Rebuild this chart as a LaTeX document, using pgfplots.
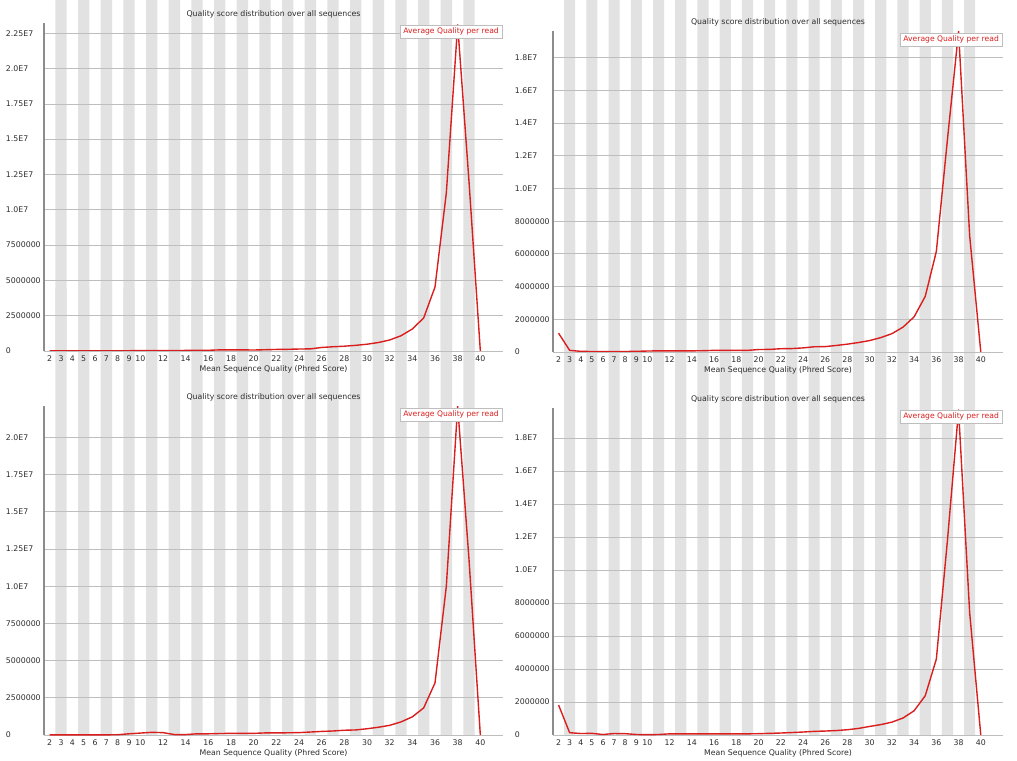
\documentclass[border=0pt]{standalone}
\usepackage{pgfplots}
\pgfplotsset{compat=1.18}
\usepackage{fontspec}
\setmainfont{DejaVu Sans}
\definecolor{stripe}{RGB}{226,226,226}
\definecolor{gridc}{RGB}{190,190,190}
\definecolor{axc}{RGB}{140,140,140}
\definecolor{linered}{RGB}{218,30,30}
\definecolor{txt}{RGB}{45,45,45}

\pgfplotstableread{
x y
2 0.01e6
3 0.01e6
4 0.01e6
5 0.01e6
6 0.01e6
7 0.01e6
8 0.01e6
9 0.02e6
10 0.03e6
11 0.03e6
12 0.03e6
13 0.03e6
14 0.04e6
15 0.04e6
16 0.05e6
17 0.08e6
18 0.08e6
19 0.08e6
20 0.07e6
21 0.09e6
22 0.11e6
23 0.12e6
24 0.14e6
25 0.15e6
26 0.25e6
27 0.30e6
28 0.34e6
29 0.40e6
30 0.48e6
31 0.60e6
32 0.78e6
33 1.08e6
34 1.56e6
35 2.34e6
36 4.53e6
37 11.2e6
38 23.1e6
39 12.0e6
40 0
}\dataA

\pgfplotstableread{
x y
2 1.15e6
3 0.10e6
4 0.04e6
5 0.03e6
6 0.03e6
7 0.03e6
8 0.03e6
9 0.04e6
10 0.06e6
11 0.07e6
12 0.07e6
13 0.07e6
14 0.07e6
15 0.08e6
16 0.10e6
17 0.10e6
18 0.10e6
19 0.10e6
20 0.15e6
21 0.16e6
22 0.20e6
23 0.21e6
24 0.25e6
25 0.32e6
26 0.33e6
27 0.40e6
28 0.48e6
29 0.58e6
30 0.70e6
31 0.88e6
32 1.12e6
33 1.52e6
34 2.15e6
35 3.40e6
36 6.15e6
37 13.0e6
38 19.6e6
39 7.1e6
40 0
}\dataB

\pgfplotstableread{
x y
2 0.01e6
3 0.01e6
4 0.01e6
5 0.01e6
6 0.01e6
7 0.01e6
8 0.02e6
9 0.08e6
10 0.13e6
11 0.18e6
12 0.16e6
13 0.03e6
14 0.03e6
15 0.08e6
16 0.08e6
17 0.10e6
18 0.11e6
19 0.11e6
20 0.11e6
21 0.14e6
22 0.14e6
23 0.15e6
24 0.16e6
25 0.20e6
26 0.24e6
27 0.27e6
28 0.32e6
29 0.34e6
30 0.42e6
31 0.52e6
32 0.65e6
33 0.88e6
34 1.22e6
35 1.82e6
36 3.50e6
37 10.0e6
38 22.1e6
39 11.8e6
40 0
}\dataC

\pgfplotstableread{
x y
2 1.82e6
3 0.14e6
4 0.09e6
5 0.10e6
6 0.03e6
7 0.09e6
8 0.08e6
9 0.03e6
10 0.02e6
11 0.03e6
12 0.07e6
13 0.07e6
14 0.07e6
15 0.07e6
16 0.07e6
17 0.07e6
18 0.07e6
19 0.07e6
20 0.08e6
21 0.10e6
22 0.12e6
23 0.15e6
24 0.18e6
25 0.22e6
26 0.24e6
27 0.27e6
28 0.32e6
29 0.40e6
30 0.52e6
31 0.63e6
32 0.78e6
33 1.03e6
34 1.47e6
35 2.38e6
36 4.60e6
37 11.8e6
38 19.7e6
39 7.4e6
40 0
}\dataD

\pgfplotsset{
  fq/.style={
    scale only axis, anchor=south west, set layers,
    xmin=1.5, xmax=42, ymin=0,
    axis x line*=bottom, axis y line*=left,
    axis line style={-},
    x axis line style={draw=gridc, line width=0.8pt},
    y axis line style={draw=axc, line width=1.5pt},
    ymajorgrids, grid style={draw=gridc, line width=0.8pt},
    major tick length=0pt,
    scaled y ticks=false,
    xtick={2,3,4,5,6,7,8,9,10,12,14,16,18,20,22,24,26,28,30,32,34,36,38,40},
    /pgf/number format/assume math mode=true,
    tick label style={font=\fontsize{7.8}{9}\selectfont, text=txt},
    xticklabel style={yshift=-1.5pt},
    yticklabel style={anchor=east, text width=34.5pt, align=left},
    title={Quality score distribution over all sequences},
    title style={font=\fontsize{7.8}{9}\selectfont, text=txt, at={(0.5,1)}, anchor=south, yshift=-5pt},
    xlabel={Mean Sequence Quality (Phred Score)},
    xlabel style={font=\fontsize{7.8}{9}\selectfont, text=txt, at={(axis description cs:0.5,0)}, anchor=center, yshift=-18.5pt},
    legend style={at={(1,1)}, anchor=north east, xshift=-1pt, yshift=-2pt,
      draw=gridc, fill=white, font=\fontsize{7.6}{9}\selectfont, text=linered,
      inner sep=1pt, cells={anchor=west}},
    legend image code/.code={},
  },
  stripes/.style={ybar, bar width=1, fill=stripe, draw=none, on layer=axis background, forget plot},
  qline/.style={linered, line width=1.4pt, line join=round, mark=none},
}

\begin{document}
\begin{tikzpicture}
\path (0pt,0pt) rectangle (1017pt,760pt);

% top left
\begin{axis}[fq, at={(44pt,409pt)}, width=459pt, height=328pt, ymax=2.323e7,
  ytick={0,2.5e6,5e6,7.5e6,1e7,1.25e7,1.5e7,1.75e7,2e7,2.25e7},
  yticklabels={0,2500000,5000000,7500000,1.0E7,1.25E7,1.5E7,1.75E7,2.0E7,2.25E7}]
\addplot[stripes] coordinates {(3,3e7)(5,3e7)(7,3e7)(9,3e7)(11,3e7)(13,3e7)(15,3e7)(17,3e7)(19,3e7)(21,3e7)(23,3e7)(25,3e7)(27,3e7)(29,3e7)(31,3e7)(33,3e7)(35,3e7)(37,3e7)(39,3e7)};
\addplot[qline] table[x=x,y=y] {\dataA};
\addlegendentry{Average Quality per read}
\end{axis}

% top right
\begin{axis}[fq, at={(553pt,408pt)}, width=450pt, height=321pt, ymax=1.963e7,
  ytick={0,2e6,4e6,6e6,8e6,1e7,1.2e7,1.4e7,1.6e7,1.8e7},
  yticklabels={0,2000000,4000000,6000000,8000000,1.0E7,1.2E7,1.4E7,1.6E7,1.8E7}]
\addplot[stripes] coordinates {(3,3e7)(5,3e7)(7,3e7)(9,3e7)(11,3e7)(13,3e7)(15,3e7)(17,3e7)(19,3e7)(21,3e7)(23,3e7)(25,3e7)(27,3e7)(29,3e7)(31,3e7)(33,3e7)(35,3e7)(37,3e7)(39,3e7)};
\addplot[qline] table[x=x,y=y] {\dataB};
\addlegendentry{Average Quality per read}
\end{axis}

% bottom left
\begin{axis}[fq, at={(44pt,25pt)}, width=459pt, height=329pt, ymax=2.211e7,
  ytick={0,2.5e6,5e6,7.5e6,1e7,1.25e7,1.5e7,1.75e7,2e7},
  yticklabels={0,2500000,5000000,7500000,1.0E7,1.25E7,1.5E7,1.75E7,2.0E7}]
\addplot[stripes] coordinates {(3,3e7)(5,3e7)(7,3e7)(9,3e7)(11,3e7)(13,3e7)(15,3e7)(17,3e7)(19,3e7)(21,3e7)(23,3e7)(25,3e7)(27,3e7)(29,3e7)(31,3e7)(33,3e7)(35,3e7)(37,3e7)(39,3e7)};
\addplot[qline] table[x=x,y=y] {\dataC};
\addlegendentry{Average Quality per read}
\end{axis}

% bottom right
\begin{axis}[fq, at={(553pt,25pt)}, width=450pt, height=327pt, ymax=1.982e7,
  ytick={0,2e6,4e6,6e6,8e6,1e7,1.2e7,1.4e7,1.6e7,1.8e7},
  yticklabels={0,2000000,4000000,6000000,8000000,1.0E7,1.2E7,1.4E7,1.6E7,1.8E7}]
\addplot[stripes] coordinates {(3,3e7)(5,3e7)(7,3e7)(9,3e7)(11,3e7)(13,3e7)(15,3e7)(17,3e7)(19,3e7)(21,3e7)(23,3e7)(25,3e7)(27,3e7)(29,3e7)(31,3e7)(33,3e7)(35,3e7)(37,3e7)(39,3e7)};
\addplot[qline] table[x=x,y=y] {\dataD};
\addlegendentry{Average Quality per read}
\end{axis}
\end{tikzpicture}
\end{document}
